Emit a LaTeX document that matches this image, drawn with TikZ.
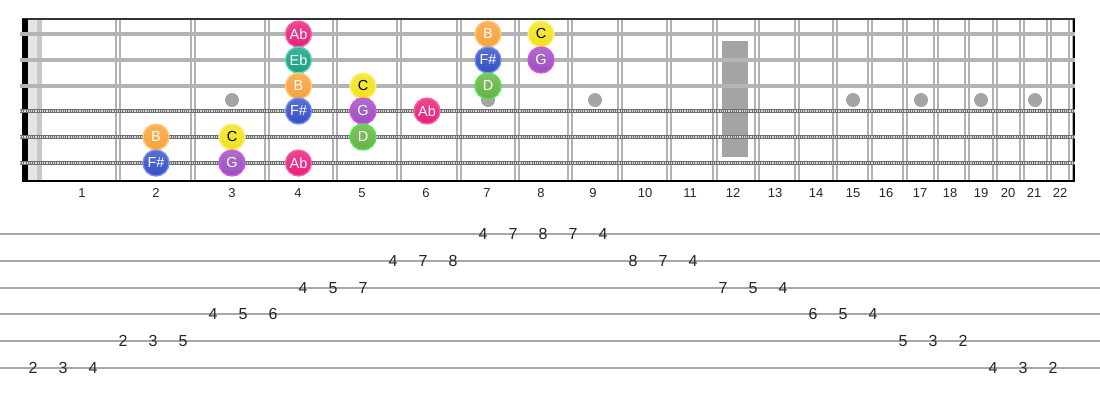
\documentclass[tikz,border=0pt]{standalone}
\usepackage{fontspec}
\setmainfont{Liberation Sans}
\setsansfont{Liberation Sans}
\usepackage{tkz-graph}
\definecolor{noteAb}{HTML}{E91E7A}
\definecolor{rimAb}{HTML}{F366A6}
\definecolor{noteEb}{HTML}{16A085}
\definecolor{rimEb}{HTML}{5AD6B6}
\definecolor{noteB}{HTML}{F7A23A}
\definecolor{rimB}{HTML}{FFCB78}
\definecolor{noteC}{HTML}{F2E21C}
\definecolor{rimC}{HTML}{FFF27A}
\definecolor{noteFs}{HTML}{3550C8}
\definecolor{rimFs}{HTML}{7290F2}
\definecolor{noteG}{HTML}{9A50BE}
\definecolor{rimG}{HTML}{E04EE8}
\definecolor{noteD}{HTML}{66B345}
\definecolor{rimD}{HTML}{4CE84C}
\definecolor{fretgray}{HTML}{B2B2B2}
\definecolor{stringgray}{HTML}{B4B4B4}
\definecolor{woundgray}{HTML}{6E6E6E}
\definecolor{dotgray}{HTML}{A4A4A4}
\definecolor{tabgray}{HTML}{A8A8A8}
\colorlet{textdark}{black!85}

\tikzset{
  notestyle/.style 2 args={shape=circle, minimum size=26pt, inner sep=0pt,
    top color=#1!82!white, bottom color=#1, draw=#2, line width=1.3pt,
    font=\fontsize{14.5}{15}\selectfont},
  fretnum/.style={text=textdark, font=\fontsize{13}{14}\selectfont},
  tabnum/.style={text=textdark, inner sep=1pt, font=\fontsize{16}{17}\selectfont},
  fretline/.style={draw=fretgray, line width=1.2pt},
  plainstring/.style={draw=stringgray, line width=3.2pt},
  wound/.style={draw=woundgray, line width=4.8pt},
  woundtick/.style={draw=white!85!black, line width=2.2pt, dash pattern=on 1.1pt off 1.1pt},
  tabline/.style={draw=tabgray, line width=2pt}
}

\begin{document}
\begin{tikzpicture}[x=1pt,y=-1pt]
\useasboundingbox (0,0) rectangle (1100,400);
\GraphInit[vstyle=Normal]
% fretboard
\fill[black!10] (28,19) rectangle (37,181);
\fill[black!22] (37,19) rectangle (42,181);
\fill[dotgray] (722,41) rectangle (748,157);
\foreach \x in {118,193,267,335,399,459,517,570,620,669,715,757,797,835,870,905,936,967,995,1022,1049,1071}
  \draw[fretline] (\x-2,19) -- (\x-2,181) (\x+2,19) -- (\x+2,181);
\foreach \x in {232,363,488,595,853,921,981,1035}
  \fill[dotgray] (\x,100) circle (7);
\draw[draw=black!80, line width=2pt] (22,19) -- (1075,19);
\draw[line width=2.5pt] (22,181) -- (1075,181);
\draw[line width=2pt] (1074,19) -- (1074,181);
\fill[black] (22,19) rectangle (28,182);
\foreach \y in {34,60,86}
  \draw[plainstring] (20,\y) -- (1075,\y);
\foreach \y in {111,137,163}{
  \draw[wound] (20,\y) -- (1075,\y);
  \draw[woundtick] (20,\y) -- (1075,\y);
}
\foreach \x [count=\n] in {82,156,232,298,362,426,487,541,593,645,690,733,775,816,853,886,920,950,981,1008,1034,1060}
  \node[fretnum] (fn\n) at (\x,193) {\n};
% notes
\tikzset{VertexStyle/.style={notestyle={noteAb}{rimAb}, text=white}}
\Vertex[x=298.5, y=34, L={Ab}]{s1f4}
\Vertex[x=427, y=111, L={Ab}]{s4f6}
\Vertex[x=298.5, y=163, L={Ab}]{s6f4}
\tikzset{VertexStyle/.style={notestyle={noteEb}{rimEb}, text=white}}
\Vertex[x=298.5, y=60, L={Eb}]{s2f4}
\tikzset{VertexStyle/.style={notestyle={noteB}{rimB}, text=white}}
\Vertex[x=488, y=34, L={B}]{s1f7}
\Vertex[x=298.5, y=86, L={B}]{s3f4}
\Vertex[x=156, y=137, L={B}]{s5f2}
\tikzset{VertexStyle/.style={notestyle={noteC}{rimC}, text=black}}
\Vertex[x=541, y=34, L={C}]{s1f8}
\Vertex[x=363, y=86, L={C}]{s3f5}
\Vertex[x=232, y=137, L={C}]{s5f3}
\tikzset{VertexStyle/.style={notestyle={noteFs}{rimFs}, text=white}}
\Vertex[x=488, y=60, L={F\#}]{s2f7}
\Vertex[x=298.5, y=111, L={F\#}]{s4f4}
\Vertex[x=156, y=163, L={F\#}]{s6f2}
\tikzset{VertexStyle/.style={notestyle={noteG}{rimG}, text=white}}
\Vertex[x=541, y=60, L={G}]{s2f8}
\Vertex[x=363, y=111, L={G}]{s4f5}
\Vertex[x=232, y=163, L={G}]{s6f3}
\tikzset{VertexStyle/.style={notestyle={noteD}{rimD}, text=white}}
\Vertex[x=488, y=86, L={D}]{s3f7}
\Vertex[x=363, y=137, L={D}]{s5f5}
% tab
\foreach \y [count=\i] in {234,260.8,287.6,314.4,341.2,368}
  \draw[tabline] (0,\y) coordinate (tl\i) -- (1100,\y) coordinate (tr\i);
\foreach \s/\f [count=\k from 0] in {6/2,6/3,6/4,5/2,5/3,5/5,4/4,4/5,4/6,3/4,3/5,3/7,2/4,2/7,2/8,1/4,1/7,1/8,1/7,1/4,2/8,2/7,2/4,3/7,3/5,3/4,4/6,4/5,4/4,5/5,5/3,5/2,6/4,6/3,6/2}
  \node[tabnum] (tab\k) at ({33+30*\k},{234+26.8*(\s-1)}) {\f};
\end{tikzpicture}
\end{document}
